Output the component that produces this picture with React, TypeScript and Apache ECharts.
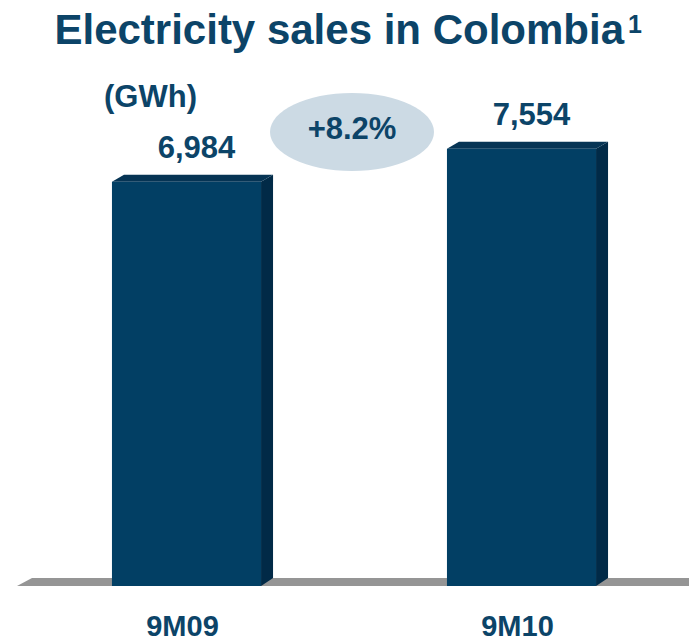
import React, { useEffect, useRef } from "react";
import * as echarts from "echarts";

const categories = ["9M09", "9M10"];
const salesGWh = [6984, 7554];
const growthLabel = "+8.2%";
const titleText = "Electricity sales in Colombia";
const titleNote = "1";
const unitLabel = "(GWh)";

const TEXT = "#0c4468";
const FONT = "'Liberation Sans', Arial, Helvetica, sans-serif";

export default function App() {
  const ref = useRef<HTMLDivElement>(null);
  useEffect(() => {
    if (!ref.current) return;
    const chart = echarts.init(ref.current, undefined, { renderer: "svg" });
    const dx = 12;
    const dy = 7;
    chart.setOption({
      animation: false,
      backgroundColor: "#ffffff",
      grid: { left: 19, right: 0, top: 123, bottom: 55 },
      xAxis: {
        type: "category",
        data: categories,
        axisLine: { show: false },
        axisTick: { show: false },
        splitLine: { show: false },
        axisLabel: {
          fontSize: 29,
          fontWeight: "bold",
          color: TEXT,
          fontFamily: FONT,
          margin: 25,
          padding: [0, 8, 0, 0],
        },
      },
      yAxis: { type: "value", min: 0, max: 8000, show: false },
      graphic: [
        {
          type: "polygon",
          z: 0,
          shape: {
            points: [
              [17, 586],
              [32, 578],
              [689, 578],
              [689, 586],
            ],
          },
          style: { fill: "#959595" },
        },
        {
          type: "ellipse",
          z: 1,
          shape: { cx: 352, cy: 132, rx: 82, ry: 39 },
          style: { fill: "#ccdae4" },
        },
        {
          type: "text",
          z: 2,
          x: 352,
          y: 128,
          style: {
            text: growthLabel,
            align: "center",
            verticalAlign: "middle",
            fontSize: 31,
            fontWeight: "bold",
            fontFamily: FONT,
            fill: TEXT,
          },
        },
        {
          type: "text",
          z: 2,
          x: 624,
          y: 29,
          style: {
            text: titleText,
            align: "right",
            verticalAlign: "middle",
            fontSize: 42,
            fontWeight: "bold",
            fontFamily: FONT,
            fill: TEXT,
          },
        },
        {
          type: "text",
          z: 2,
          x: 628,
          y: 24,
          style: {
            text: titleNote,
            align: "left",
            verticalAlign: "middle",
            fontSize: 25,
            fontWeight: "bold",
            fontFamily: FONT,
            fill: TEXT,
          },
        },
        {
          type: "text",
          z: 2,
          x: 104,
          y: 96,
          style: {
            text: unitLabel,
            align: "left",
            verticalAlign: "middle",
            fontSize: 31,
            fontWeight: "bold",
            fontFamily: FONT,
            fill: TEXT,
          },
        },
      ],
      series: [
        {
          type: "custom",
          z: 3,
          data: salesGWh.map((v, i) => [i, v]),
          renderItem: (params: any, api: any) => {
            const xi = api.value(0);
            const v = api.value(1);
            const top = api.coord([xi, v]);
            const base = api.coord([xi, 0]);
            const bw = api.size([1, 0])[0] * 0.445;
            const x0 = top[0] - bw / 2;
            const x1 = top[0] + bw / 2;
            const ty = top[1];
            const by = base[1];
            return {
              type: "group",
              children: [
                {
                  type: "polygon",
                  shape: {
                    points: [
                      [x1, ty],
                      [x1 + dx, ty - dy],
                      [x1 + dx, by - dy - 1],
                      [x1, by],
                    ],
                  },
                  style: { fill: "#012a47" },
                },
                {
                  type: "polygon",
                  shape: {
                    points: [
                      [x0, ty],
                      [x0 + dx, ty - dy],
                      [x1 + dx, ty - dy],
                      [x1, ty],
                    ],
                  },
                  style: { fill: "#063454" },
                },
                {
                  type: "rect",
                  shape: { x: x0, y: ty, width: bw, height: by - ty },
                  style: { fill: "#023f64" },
                },
                {
                  type: "text",
                  x: top[0] + 10,
                  y: ty - 34,
                  style: {
                    text: Number(v).toLocaleString("en-US"),
                    align: "center",
                    verticalAlign: "middle",
                    fontSize: 31,
                    fontWeight: "bold",
                    fontFamily: FONT,
                    fill: TEXT,
                  },
                },
              ],
            };
          },
        },
      ],
    });
    return () => chart.dispose();
  }, []);
  return (
    <div
      ref={ref}
      style={{ position: "fixed", left: 0, top: 0, width: 689, height: 641 }}
    />
  );
}
